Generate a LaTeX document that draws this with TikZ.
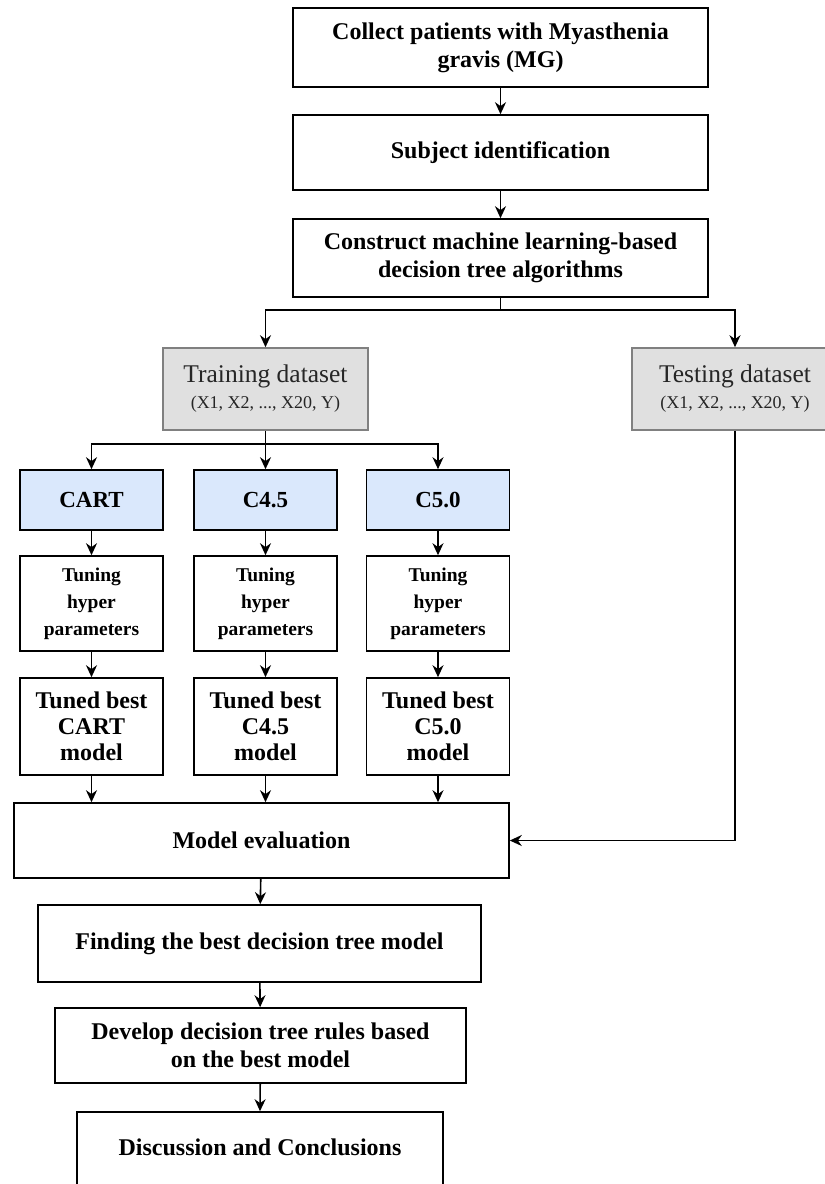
\documentclass[tikz,border=0pt]{standalone}
\usepackage{fontspec}
\setmainfont{Liberation Serif}
\usepackage{tikz}
\usetikzlibrary{calc, positioning, arrows.meta}
\usepackage{xcolor}
\definecolor{dataFill}{RGB}{224, 224, 224}
\definecolor{dataLine}{RGB}{128, 128, 128}
\definecolor{algoFill}{RGB}{218, 232, 252}

\tikzset{
  flowbox/.style={draw, line width=1.6pt, fill=white, align=center, inner sep=0pt,
    font=\fontsize{24}{28}\selectfont\bfseries},
  databox/.style={flowbox, draw=dataLine, fill=dataFill, text=black!85,
    font=\fontsize{25.5}{29}\selectfont},
  algobox/.style={flowbox, fill=algoFill, minimum width=143pt, minimum height=60pt,
    font=\fontsize{23}{26}\selectfont\bfseries},
  tunebox/.style={flowbox, minimum width=143pt, minimum height=95pt,
    font=\fontsize{19.5}{27}\selectfont\bfseries},
  bestbox/.style={flowbox, minimum width=143pt, minimum height=97pt,
    font=\fontsize{24}{26}\selectfont\bfseries},
  flowarrow/.style={-{Stealth[length=12pt, width=11pt]}, line width=1.6pt},
}

\begin{document}
\begin{tikzpicture}[x=1pt, y=-1pt]
  \clip (0, 0) rectangle (825, 1184);

  % top of the pipeline
  \node[flowbox, minimum width=415pt, minimum height=79pt] (collect) at (500.5, 47.5)
    {Collect patients with Myasthenia\\gravis (MG)};
  \node[flowbox, minimum width=415pt, minimum height=75pt] (subject) at (500.5, 152.5)
    {Subject identification};
  \node[flowbox, minimum width=415pt, minimum height=78pt] (construct) at (500.5, 258)
    {Construct machine learning-based\\decision tree algorithms};

  % datasets
  \node[databox, minimum width=205pt, minimum height=82pt] (train) at (265.5, 389)
    {Training dataset\\[-3pt]{\fontsize{18}{22}\selectfont (X1, X2, ..., X20, Y)}};
  \node[databox, minimum width=206pt, minimum height=82pt] (test) at (735, 389)
    {Testing dataset\\[-3pt]{\fontsize{18}{22}\selectfont (X1, X2, ..., X20, Y)}};

  % three algorithms
  \node[algobox] (cart) at (91.5, 500) {CART};
  \node[algobox] (cfour) at (265.5, 500) {C4.5};
  \node[algobox] (cfive) at (438, 500) {C5.0};

  \node[tunebox] (tunecart) at (91.5, 603.5) {Tuning\\hyper\\parameters};
  \node[tunebox] (tunecfour) at (265.5, 603.5) {Tuning\\hyper\\parameters};
  \node[tunebox] (tunecfive) at (438, 603.5) {Tuning\\hyper\\parameters};

  \node[bestbox] (bestcart) at (91.5, 726.5) {Tuned best\\CART\\model};
  \node[bestbox] (bestcfour) at (265.5, 726.5) {Tuned best\\C4.5\\model};
  \node[bestbox] (bestcfive) at (438, 726.5) {Tuned best\\C5.0\\model};

  % evaluation and after
  \node[flowbox, minimum width=495pt, minimum height=75pt] (eval) at (261.5, 840.5)
    {Model evaluation};
  \node[flowbox, minimum width=443pt, minimum height=77pt] (bestmodel) at (259.5, 943.5)
    {Finding the best decision tree model};
  \node[flowbox, minimum width=411pt, minimum height=75pt] (develop) at (260.5, 1045.5)
    {Develop decision tree rules based\\on the best model};
  \node[flowbox, minimum width=366pt, minimum height=100pt, text depth=30pt] (discuss) at (260, 1162)
    {Discussion and Conclusions};

  % connectors
  \draw[flowarrow] (collect) -- (subject);
  \draw[flowarrow] (subject) -- (construct);
  \coordinate (splitdata) at (500.5, 310);
  \draw[line width=1.6pt] (construct.south) -- (splitdata);
  \draw[flowarrow] (splitdata) -| (train.north);
  \draw[flowarrow] (splitdata) -| (test.north);

  \coordinate (splitalgo) at (265.5, 444);
  \draw[line width=1.6pt] (train.south) -- (splitalgo);
  \draw[flowarrow] (splitalgo) -| (cart.north);
  \draw[flowarrow] (splitalgo) -- (cfour.north);
  \draw[flowarrow] (splitalgo) -| (cfive.north);

  \foreach \m in {cart, cfour, cfive} {
    \draw[flowarrow] (\m) -- (tune\m);
    \draw[flowarrow] (tune\m) -- (best\m);
    \draw[flowarrow] (best\m.south) -- (best\m.south |- eval.north);
  }

  \draw[flowarrow] (test.south) |- (eval.east);
  \draw[flowarrow] (eval) -- (bestmodel);
  \draw[flowarrow] (bestmodel) -- (develop);
  \draw[flowarrow] (develop) -- (discuss.north);
\end{tikzpicture}
\end{document}
